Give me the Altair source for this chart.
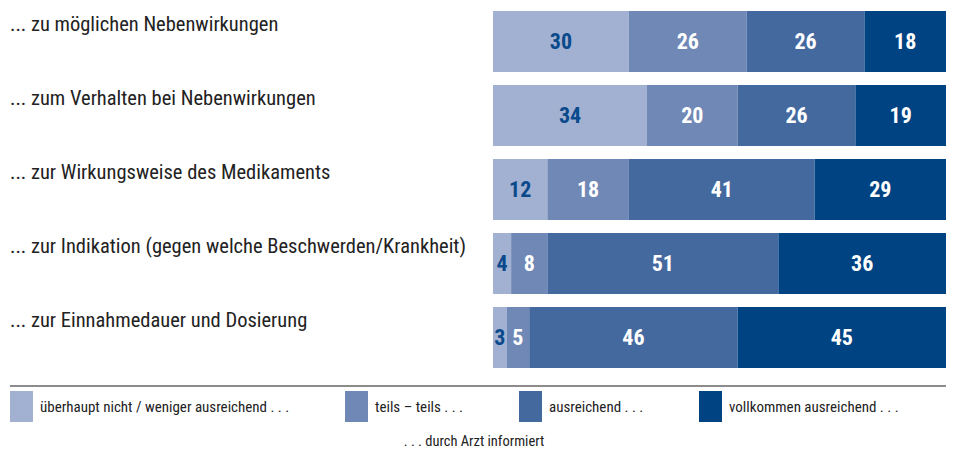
import altair as alt
import pandas as pd

rows = [
    "... zu möglichen Nebenwirkungen",
    "... zum Verhalten bei Nebenwirkungen",
    "... zur Wirkungsweise des Medikaments",
    "... zur Indikation (gegen welche Beschwerden/Krankheit)",
    "... zur Einnahmedauer und Dosierung",
]
categories = [
    "überhaupt nicht / weniger ausreichend . . .",
    "teils – teils . . .",
    "ausreichend . . .",
    "vollkommen ausreichend . . .",
]
colors = ["#A2B1D1", "#7088B6", "#44699F", "#004383"]

val_gar_nicht = [30, 34, 12, 4, 3]
val_teils = [26, 20, 18, 8, 5]
val_ausreichend = [26, 26, 41, 51, 46]
val_vollkommen = [18, 19, 29, 36, 45]
series = [val_gar_nicht, val_teils, val_ausreichend, val_vollkommen]

caption = ". . . durch Arzt informiert"

records = []
for ci, (cat, vals) in enumerate(zip(categories, series)):
    for ri, r in enumerate(rows):
        records.append({"row": r, "cat": cat, "order": ci, "value": vals[ri]})
df = pd.DataFrame(records)
rows_df = pd.DataFrame({"row": rows})

FONT = "Liberation Sans Narrow, Roboto Condensed, Roboto, sans-serif"

yscale = alt.Scale(domain=rows, range=[11, 368], paddingInner=13 / 74, paddingOuter=0)
xscale = alt.Scale(domain=[0, 100], range=[493, 946])

# cumulative stacking; the last segment takes up the rounding remainder to 100 %
base = alt.Chart(df).transform_window(
    cum="sum(value)", groupby=["row"], sort=[alt.SortField("order", order="ascending")],
    frame=[None, 0],
).transform_calculate(
    x0="datum.cum - datum.value",
    x1="datum.order == 3 ? 100 : datum.cum",
).transform_calculate(mid="(datum.x0 + datum.x1) / 2")

bars = base.mark_bar(stroke=None).encode(
    y=alt.Y("row:N", scale=yscale, axis=None),
    x=alt.X("x0:Q", scale=xscale, axis=None),
    x2="x1:Q",
    color=alt.Color(
        "cat:N",
        scale=alt.Scale(domain=categories, range=colors),
        legend=alt.Legend(
            orient="none", legendX=6, legendY=391, direction="horizontal",
            title=None, padding=0,
            symbolType="M-0.742,-1L0.742,-1L0.742,1L-0.742,1Z",
            symbolSize=961, symbolStrokeWidth=0, symbolOpacity=1,
            labelFont=FONT, labelFontSize=15, labelColor="#222222",
            labelOffset=3, columnPadding=51, labelLimit=400,
        ),
    ),
)

nums = base.mark_text(font=FONT, fontSize=22, fontWeight="bold", baseline="middle", align="center").encode(
    y=alt.Y("row:N", scale=yscale, axis=None),
    x=alt.X("mid:Q", scale=xscale, axis=None),
    text=alt.Text("value:Q"),
    color=alt.condition(alt.datum.order == 0, alt.value("#0A4A8C"), alt.value("white")),
)

labels = alt.Chart(rows_df).mark_text(
    font=FONT, fontSize=20.5, align="left", baseline="alphabetic", dy=-11, color="#222222"
).encode(
    y=alt.Y("row:N", scale=yscale, axis=None),
    x=alt.value(10),
    text="row:N",
)

rule = alt.Chart(pd.DataFrame({"a": [0]})).mark_rule(color="#8c8c8c", strokeWidth=2).encode(
    x=alt.value(10), x2=alt.value(946), y=alt.value(386)
)

cap = alt.Chart(pd.DataFrame({"t": [caption]})).mark_text(
    font=FONT, fontSize=14.5, align="center", baseline="alphabetic", color="#222222"
).encode(x=alt.value(474), y=alt.value(446), text="t:N")

chart = alt.layer(bars, nums, labels, rule, cap).properties(
    width=954, height=451, autosize="none", padding=0,
).configure_view(stroke=None)

chart.save("out.html", embed_options={"renderer": "svg", "actions": False})
